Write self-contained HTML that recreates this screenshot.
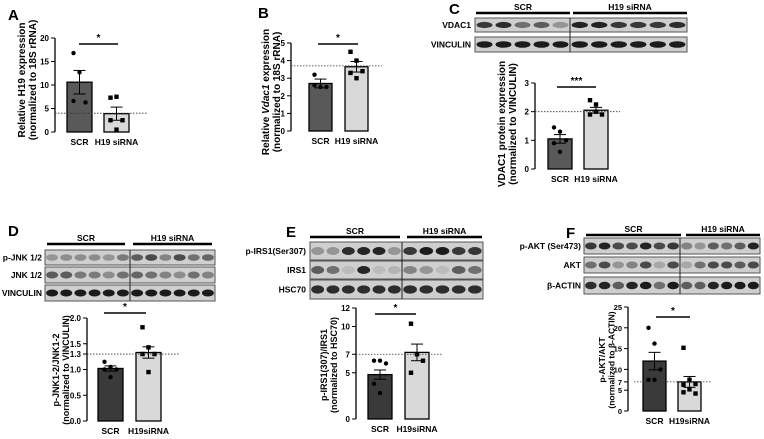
<!DOCTYPE html>
<html><head><meta charset="utf-8"><style>
body{margin:0;background:#fff;width:764px;height:434px;overflow:hidden}
svg{font-family:"Liberation Sans",Arial,sans-serif;font-weight:bold}
</style></head><body>
<svg id="fig" width="764" height="434" viewBox="0 0 764 434" xmlns="http://www.w3.org/2000/svg">
<text x="8" y="20" font-size="15">A</text>
<text x="258" y="18" font-size="15">B</text>
<text x="449" y="14" font-size="15">C</text>
<text x="8" y="236" font-size="15">D</text>
<text x="286" y="237" font-size="15">E</text>
<text x="566" y="238" font-size="15">F</text>
</svg>
<script>
// ---- data ----
const categories = ["SCR","H19 siRNA"];
const categoriesB = ["SCR","H19siRNA"];
const aMeans=[10.6,3.9], aErr=[2.5,1.4], aDots0=[16.8,12.7,6.3,6.6], aDots1=[7.3,7.5,2.5,2.5,0.5], aTicks=[0,5,10,15,20];
const bMeans=[2.7,3.65], bErr=[0.25,0.3], bDots0=[3.2,2.5,2.5,2.6], bDots1=[4.5,4.0,3.4,3.3,3.0], bTicks=[0,1,2,3,4,5];
const cMeans=[1.05,2.05], cErr=[0.15,0.1], cDots0=[1.45,1.3,1.0,0.9,0.6], cDots1=[2.4,2.25,1.9,1.9,2.0], cTicks=[0,1,2,3];
const dMeans=[1.02,1.33], dErr=[0.05,0.11], dDots0=[1.15,1.05,1.0,1.0,0.85], dDots1=[1.82,1.43,1.3,1.3,0.95], dTicks=[0,0.5,1.0,1.3,1.5,2.0], dTickLabels=["0.0","0.5","1.0","1.3","1.5","2.0"];
const eMeans=[4.8,7.2], eErr=[0.5,0.9], eDots0=[6.3,6.3,6.0,3.8,2.8], eDots1=[10.3,7.0,6.3,5.0], eTicks=[0,5,7,10,12];
const fMeans=[12,7], fErr=[2.1,1.3], fDots0=[20,16.2,10,7.5,7.5], fDots1=[15.2,7.5,6.5,6.3,5.2,4.2,4.5], fTicks=[0,5,7,10,15,20,25];

const NS="http://www.w3.org/2000/svg";
const svg=document.getElementById('fig');
function el(tag,attrs,parent){const e=document.createElementNS(NS,tag);for(const k in attrs)e.setAttribute(k,attrs[k]);(parent||svg).appendChild(e);return e;}

function chart(p){
  const g=el('g',{});
  
  
  const y=v=>p.y0-(v-p.min)/(p.max-p.min)*(p.y0-p.y1);
  el('line',{x1:p.ax,y1:p.y1,x2:p.ax,y2:p.y0,stroke:'#000','stroke-width':1.3},g);
  p.ticks.forEach((t,i)=>{
    el('line',{x1:p.ax-4,y1:y(t),x2:p.ax,y2:y(t),stroke:'#000','stroke-width':1},g);
    const tx=el('text',{x:p.ax-6,y:y(t)+3,'font-size':p.tkfs||8,'text-anchor':'end'},g);
    tx.textContent=p.tickLabels?p.tickLabels[i]:t;
  });
  const fills=[p.dark||'#595959','#d9d9d9'];
  const dots=[p.d0,p.d1];
  p.means.forEach((m,i)=>{
    const bx=p.bars[i],bw=p.bw;
    const r=el('rect',{x:bx,y:y(m),width:bw,height:p.y0-y(m),fill:fills[i],stroke:'#000','stroke-width':1.3},g);
    
    
    const cx=bx+bw/2;
    el('line',{x1:cx,y1:y(m+p.err[i]),x2:cx,y2:y(m-p.err[i]),stroke:'#000','stroke-width':1},g);
    el('line',{x1:cx-6,y1:y(m+p.err[i]),x2:cx+6,y2:y(m+p.err[i]),stroke:'#000','stroke-width':1},g);
    el('line',{x1:cx-6,y1:y(m-p.err[i]),x2:cx+6,y2:y(m-p.err[i]),stroke:'#000','stroke-width':1},g);
    const n=dots[i].length;
    dots[i].forEach((v,j)=>{
      const dx=cx+(n>1?(j%3-1)*6:0);
      if(i==0){const c=el('circle',{cx:dx,cy:y(v),r:2.2,fill:'#000'},g);}
      else{const s=el('rect',{x:dx-2.2,y:y(v)-2.2,width:4.4,height:4.4,fill:'#000'},g);}
    });
    const lb=el('text',{x:cx,y:p.y0+13,'font-size':8.5,'text-anchor':'middle'},g);
    lb.textContent=p.cats[i];
  });
  el('line',{x1:p.dx0,y1:y(p.dot),x2:p.dx1,y2:y(p.dot),stroke:'#333','stroke-width':0.8,'stroke-dasharray':'1.5,1.5'},g);
  el('line',{x1:p.s0,y1:p.sy,x2:p.s1,y2:p.sy,stroke:'#000','stroke-width':1.5},g);
  const st=el('text',{x:(p.s0+p.s1)/2,y:p.sy-3,'font-size':10,'text-anchor':'middle'},g);st.textContent=p.star;
  const tt=el('text',{transform:`translate(${p.tx},${p.tcy}) rotate(-90)`,'font-size':p.tfs||9,'text-anchor':'middle'},g);
  p.title.forEach((s,k)=>{const ts=el('tspan',{x:0,dy:k?p.tlh||10:0},tt);ts.innerHTML=s;});
}

chart({name:'chart-a',ax:55,y0:132,y1:38,min:0,max:20,ticks:aTicks,means:aMeans,err:aErr,d0:aDots0,d1:aDots1,bars:[67,104],bw:25,cats:categories,dot:4,dx0:55,dx1:147,s0:79,s1:118,sy:44,star:'*',tx:25,tcy:80,title:['Relative H19 expression','(normalized to 18S rRNA)'],tfs:10,tlh:11});
chart({name:'chart-b',ax:291,y0:131,y1:43,min:0,max:5,ticks:bTicks,means:bMeans,err:bErr,d0:bDots0,d1:bDots1,bars:[309,345],bw:23,cats:categories,dot:3.7,dx0:291,dx1:382,s0:318,s1:358,sy:44,star:'*',tx:269,tcy:92,title:['Relative <tspan font-style="italic">Vdac1</tspan> expression','(normalized to 18S rRNA)'],tfs:10,tlh:11});
chart({name:'chart-c',ax:535,y0:169,y1:83,min:0,max:3,ticks:cTicks,means:cMeans,err:cErr,d0:cDots0,d1:cDots1,bars:[548,584],bw:24,cats:categories,dot:2,dx0:535,dx1:620,s0:557,s1:596,sy:87,star:'***',tx:505,tcy:124,title:['VDAC1 protein expression','(normalized to VINCULIN)'],tfs:10,tlh:11});
chart({name:'chart-d',ax:87,y0:421,y1:318,min:0,max:2,ticks:dTicks,tickLabels:dTickLabels,means:dMeans,err:dErr,d0:dDots0,d1:dDots1,bars:[98,136],bw:25,cats:categoriesB,dark:'#3a3a3a',dot:1.3,dx0:87,dx1:180,s0:104,s1:146,sy:313,star:'*',tx:59,tcy:370,title:['p-JNK1-2/JNK1-2','(normalized to VINCULIN)']});
chart({name:'chart-e',ax:356,y0:419,y1:308,min:0,max:12,ticks:eTicks,means:eMeans,err:eErr,d0:eDots0,d1:eDots1,bars:[368,405],bw:24,cats:categoriesB,dark:'#3a3a3a',dot:7,dx0:356,dx1:443,s0:375,s1:416,sy:314,star:'*',tx:327,tcy:365,title:['p-IRS1(307)/IRS1','(normalized to HSC70)']});
chart({name:'chart-f',ax:628,y0:411,y1:307,min:0,max:25,ticks:fTicks,means:fMeans,err:fErr,d0:fDots0,d1:fDots1,bars:[643,678],bw:23,cats:categoriesB,dark:'#3a3a3a',dot:7,dx0:634,dx1:712,s0:656,s1:690,sy:317,star:'*',tx:605,tcy:360,title:['p-AKT/AKT','(normalized to β-ACTIN)'],tlh:9.5,tfs:8.5,tkfs:7.5});

// ---- western blots ----
function blot(p){
  const g=el('g',{});
  
  
  el('line',{x1:p.h0[0],y1:p.hy,x2:p.h0[1],y2:p.hy,stroke:'#000','stroke-width':2.5},g);
  el('line',{x1:p.h1[0],y1:p.hy,x2:p.h1[1],y2:p.hy,stroke:'#000','stroke-width':2.5},g);
  let t=el('text',{x:(p.h0[0]+p.h0[1])/2,y:p.hy-3,'font-size':8.5,'text-anchor':'middle'},g);t.textContent='SCR';
  t=el('text',{x:(p.h1[0]+p.h1[1])/2,y:p.hy-3,'font-size':8.5,'text-anchor':'middle'},g);t.textContent='H19 siRNA';
  p.rows.forEach(r=>{
    el('rect',{x:p.x0,y:r.y,width:p.x1-p.x0,height:r.h,fill:r.bg||'#cfcfcf',stroke:'#555','stroke-width':1},g);
    const n=p.n0+p.n1;
    for(let k=0;k<n;k++){
      const left=k<p.n0;
      const a=left?p.x0:p.sep, b=left?p.sep:p.x1, nn=left?p.n0:p.n1, kk=left?k:k-p.n0;
      const w=(b-a)/nn, cx=a+w*(kk+0.5);
      const inten=r.int?r.int[k%r.int.length]:0.8;
      el('ellipse',{cx:cx,cy:r.y+r.h/2,rx:w*0.42,ry:r.h*0.22,fill:'#111','fill-opacity':inten},g);
    }
    const lt=el('text',{x:p.lx,y:r.y+r.h/2+3,'font-size':8.5,'text-anchor':'end'},g);lt.textContent=r.label;
  });
  el('line',{x1:p.sep,y1:p.rows[0].y,x2:p.sep,y2:p.rows[p.rows.length-1].y+p.rows[p.rows.length-1].h,stroke:'#222','stroke-width':1},g);
}
blot({name:'blot-c',x0:475,x1:687,sep:570,n0:5,n1:6,hy:13,h0:[476,570],h1:[573,687],lx:471,rows:[{y:18,h:14,label:'VDAC1',int:[0.8,0.85,0.5,0.6,0.3,0.9,0.9,0.8,0.8,0.8,0.85]},{y:37,h:15,label:'VINCULIN',int:[0.95]}]});
blot({name:'blot-d',x0:45,x1:215,sep:130,n0:6,n1:6,hy:244,h0:[47,125],h1:[133,212],lx:42,rows:[{y:250,h:15,label:'p-JNK 1/2',int:[0.3,0.35,0.35,0.35,0.3,0.45,0.6,0.7,0.4,0.7,0.5,0.55]},{y:267,h:16,label:'JNK 1/2',int:[0.6,0.6,0.45,0.45,0.35,0.5,0.55,0.5,0.4,0.35,0.5,0.4]},{y:285,h:16,label:'VINCULIN',int:[0.95]}]});
blot({name:'blot-e',x0:310,x1:483,sep:402,n0:6,n1:5,hy:237,h0:[310,400],h1:[407,482],lx:306,rows:[{y:242,h:18,label:'p-IRS1(Ser307)',int:[0.3,0.3,0.85,0.9,0.9,0.3,0.8,0.95,0.95,0.8,0.8]},{y:261,h:18,label:'IRS1',int:[0.6,0.5,0.1,0.9,0.1,0.15,0.4,0.3,0.1,0.6,0.5]},{y:280,h:19,label:'HSC70',int:[0.85]}],});
blot({name:'blot-f',x0:584,x1:760,sep:680,n0:7,n1:6,hy:235,h0:[586,681],h1:[686,760],lx:581,rows:[{y:238,h:16,label:'p-AKT (Ser473)',int:[0.8,0.9,0.7,0.7,0.9,0.7,0.8,0.4,0.3,0.6,0.5,0.6,0.9]},{y:257,h:16,label:'AKT',int:[0.5,0.7,0.3,0.4,0.7,0.2,0.7,0.2,0.5,0.7,0.7,0.6,0.7]},{y:277,h:17,label:'β-ACTIN',int:[0.85,0.9,0.6,0.9,0.95,0.5,0.95,0.6,0.6,0.9,0.95,0.95,0.95]}]});
</script>
</body></html>
